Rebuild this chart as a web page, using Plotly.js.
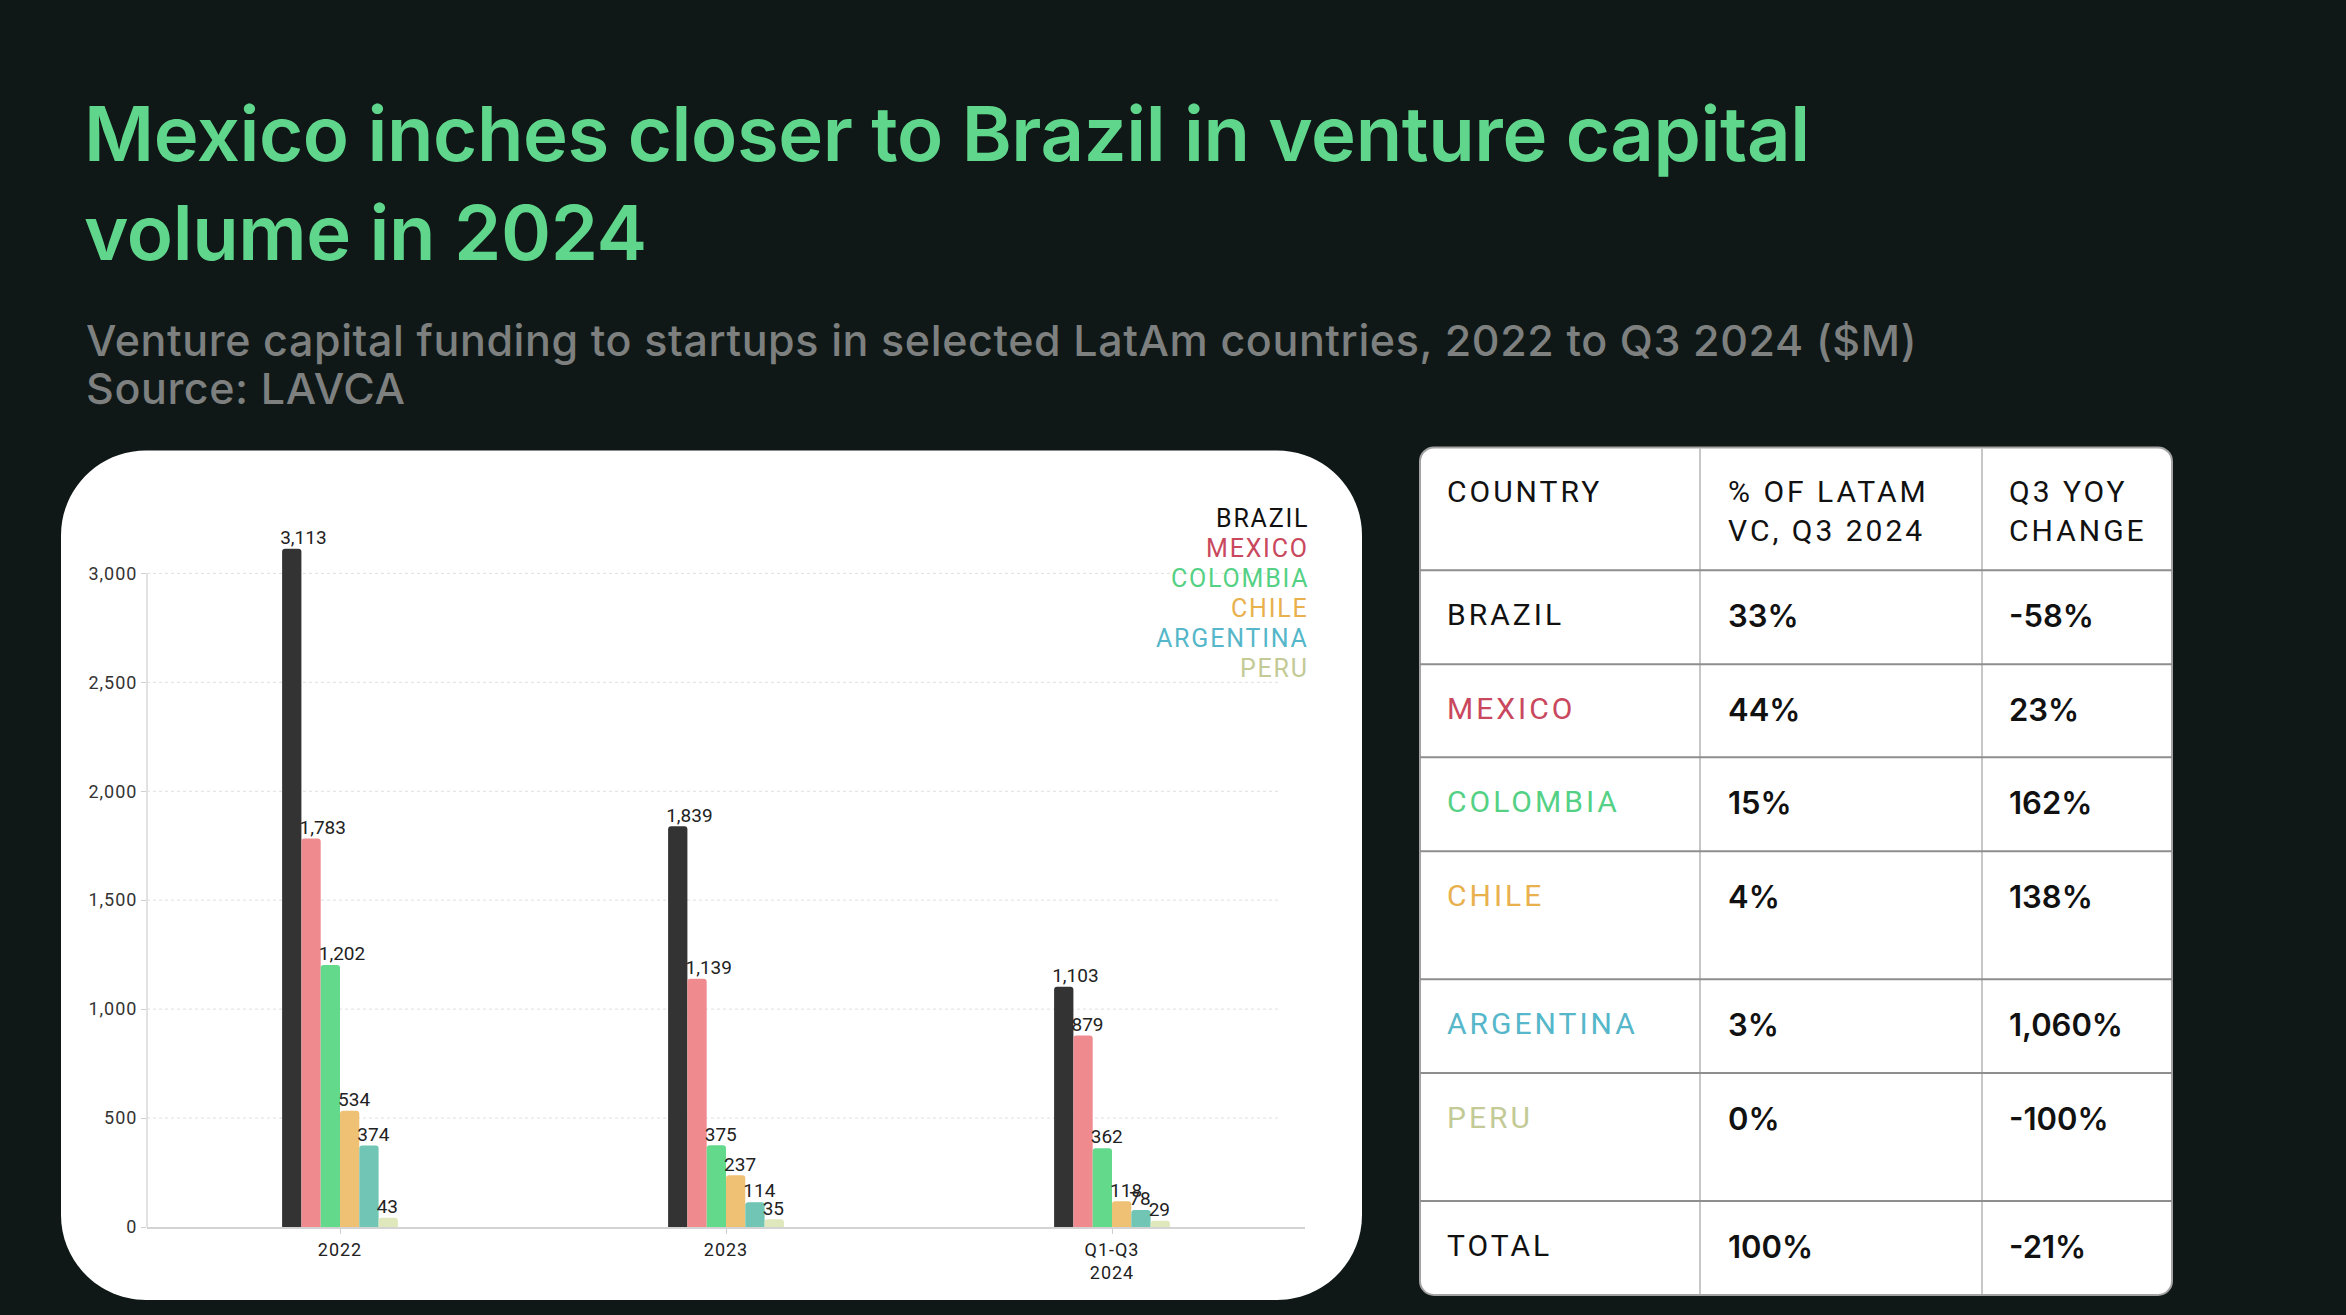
<!DOCTYPE html>
<html>
<head>
<meta charset="utf-8">
<script src="https://cdn.plot.ly/plotly-3.0.1.min.js"></script>
<style>
html,body{margin:0;padding:0;background:#0f1817;}
#chart{width:2346px;height:1315px;}
.xtick text, .ytick text{letter-spacing:1px;}
</style>
</head>
<body>
<div id="chart"></div>
<script>
// ---------- DATA ----------
const periods = ['2022', '2023', 'Q1-Q3<br>2024'];
const countries = ['BRAZIL', 'MEXICO', 'COLOMBIA', 'CHILE', 'ARGENTINA', 'PERU'];
const brazil = [3113, 1839, 1103];
const mexico = [1783, 1139, 879];
const colombia = [1202, 375, 362];
const chile = [534, 237, 118];
const argentina = [374, 114, 78];
const peru = [43, 35, 29];
const yTicks = [0, 500, 1000, 1500, 2000, 2500, 3000];

const tableHeader = ['COUNTRY', '% OF LATAM<br>VC, Q3 2024', 'Q3 YOY<br>CHANGE'];
const tableCountries = ['BRAZIL', 'MEXICO', 'COLOMBIA', 'CHILE', 'ARGENTINA', 'PERU', 'TOTAL'];
const tableShare = ['33%', '44%', '15%', '4%', '3%', '0%', '100%'];
const tableYoY = ['-58%', '23%', '162%', '138%', '1,060%', '-100%', '-21%'];

const titleLines = ['Mexico inches closer to Brazil in venture capital', 'volume in 2024'];
const subtitleLines = ['Venture capital funding to startups in selected LatAm countries, 2022 to Q3 2024 ($M)', 'Source: LAVCA'];

// ---------- STYLE / GEOMETRY ----------
const barColors = ['#333333', '#ef8b8f', '#63d98b', '#efc174', '#70c5b4', '#dfe8bc'];
const labelColors = ['#111111', '#c9485d', '#55d185', '#e9b14e', '#55b7c9', '#c3ca95'];
const series = [brazil, mexico, colombia, chile, argentina, peru];

const W = 2346, H = 1315;
const yTop = 3000, yMax = 3300;
const L = 147, R = 1305, B = 1227;
const pxPerUnit = 654 / yTop;
const T = B - yMax * pxPerUnit;
const px = x => (x - L) / (R - L);
const py = y => (B - y) / (B - T);
const GAP = 0.7;
const labelShift = 0.03; // category units, moves value labels left onto bar edge

function rr(x0, y0, x1, y1, r) {
  const k = 0.4477;
  const P = (x, y) => px(x) + ',' + py(y);
  return 'M' + P(x0 + r, y0) + ' L' + P(x1 - r, y0) +
    ' C' + P(x1 - r * k, y0) + ' ' + P(x1, y0 + r * k) + ' ' + P(x1, y0 + r) +
    ' L' + P(x1, y1 - r) +
    ' C' + P(x1, y1 - r * k) + ' ' + P(x1 - r * k, y1) + ' ' + P(x1 - r, y1) +
    ' L' + P(x0 + r, y1) +
    ' C' + P(x0 + r * k, y1) + ' ' + P(x0, y1 - r * k) + ' ' + P(x0, y1 - r) +
    ' L' + P(x0, y0 + r) +
    ' C' + P(x0, y0 + r * k) + ' ' + P(x0 + r * k, y0) + ' ' + P(x0 + r, y0) + ' Z';
}

const barTraces = series.map((vals, i) => ({
  type: 'bar',
  x: periods,
  y: vals,
  name: countries[i],
  marker: {color: barColors[i], cornerradius: 3, line: {width: 0}},
  hoverinfo: 'none',
  showlegend: false
}));

const labelTraces = series.map((vals, i) => ({
  type: 'scatter',
  mode: 'text',
  xaxis: 'x2',
  x: periods,
  y: vals,
  name: countries[i] + ' value',
  orientation: 'v',
  texttemplate: '%{y:,}',
  textposition: 'top right',
  textfont: {family: 'Roboto', size: 19, color: '#222222'},
  cliponaxis: false,
  hoverinfo: 'none',
  showlegend: false
}));

const shapes = [];
const annotations = [];

// white chart panel
shapes.push({type: 'path', xref: 'paper', yref: 'paper', path: rr(61, 450, 1362, 1300, 85),
  fillcolor: '#ffffff', line: {width: 0}, layer: 'below'});
// gridlines
yTicks.slice(1).forEach(v => shapes.push({type: 'line', xref: 'paper', yref: 'y',
  x0: 0, x1: px(1281), y0: v, y1: v, line: {color: '#dedede', width: 1, dash: 'dot'}, layer: 'below'}));
// y axis line
shapes.push({type: 'line', xref: 'paper', yref: 'y', x0: 0, x1: 0, y0: 0, y1: yTop,
  line: {color: '#d9d9d9', width: 1.5}, layer: 'below'});

// table frame
const tX0 = 1420, tX1 = 2172, tY0 = 447;
const rowH = [123, 94, 93, 94, 128, 94, 128, 94];
const rowTops = [];
let acc = tY0;
rowH.forEach(h => { rowTops.push(acc); acc += h; });
const tY1 = acc;
const colX = [1700, 1982];
const textX = [1445, 1726, 2007];

shapes.push({type: 'path', xref: 'paper', yref: 'paper', path: rr(tX0, tY0, tX1, tY1, 14),
  fillcolor: '#ffffff', line: {color: '#a3a3a3', width: 2}, layer: 'below'});
colX.forEach(cx => shapes.push({type: 'line', xref: 'paper', yref: 'paper',
  x0: px(cx), x1: px(cx), y0: py(tY0 + 1), y1: py(tY1 - 1), line: {color: '#b4b4b4', width: 1.5}}));
rowTops.slice(1).forEach(ry => shapes.push({type: 'line', xref: 'paper', yref: 'paper',
  x0: px(tX0), x1: px(tX1), y0: py(ry), y1: py(ry), line: {color: '#8e8e8e', width: 2}}));

function spaced(txt, sp) {
  return txt.split('<br>').map(s => '<span style="letter-spacing:' + sp + 'px">' + s + '</span>').join('<br>');
}

// subtitle
const subTops = [311, 360];
subtitleLines.forEach((s, i) => annotations.push({
  xref: 'paper', yref: 'paper', x: px(84), y: py(subTops[i]), xanchor: 'left', yanchor: 'top',
  text: spaced(s, 0.6), showarrow: false, align: 'left',
  font: {family: 'Inter', size: 43, weight: 500, color: '#7d807f'}
}));

// legend (text labels)
countries.forEach((c, i) => annotations.push({
  xref: 'paper', yref: 'paper', x: px(1311), y: py(502 + 30 * i), xanchor: 'right', yanchor: 'top',
  text: spaced(c, 1.8), showarrow: false, align: 'right',
  font: {family: 'Roboto', size: 25, color: labelColors[i]}
}));

// table header
tableHeader.forEach((h, j) => annotations.push({
  xref: 'paper', yref: 'paper', x: px(textX[j]), y: py(rowTops[0] + 25), xanchor: 'left', yanchor: 'top',
  text: spaced(h, 3), showarrow: false, align: 'left',
  font: {family: 'Roboto', size: 30, color: '#111111'}
}));
// table body
tableCountries.forEach((c, i) => {
  const top = rowTops[i + 1] + 25;
  annotations.push({xref: 'paper', yref: 'paper', x: px(textX[0]), y: py(top), xanchor: 'left', yanchor: 'top',
    text: spaced(c, 3), showarrow: false, align: 'left',
    font: {family: 'Roboto', size: 30, color: i < labelColors.length ? labelColors[i] : '#111111'}});
  annotations.push({xref: 'paper', yref: 'paper', x: px(textX[1]), y: py(top), xanchor: 'left', yanchor: 'top',
    text: tableShare[i], showarrow: false, align: 'left',
    font: {family: 'Inter', size: 31, weight: 600, color: '#111111'}});
  annotations.push({xref: 'paper', yref: 'paper', x: px(textX[2]), y: py(top), xanchor: 'left', yanchor: 'top',
    text: tableYoY[i], showarrow: false, align: 'left',
    font: {family: 'Inter', size: 31, weight: 600, color: '#111111'}});
});

const layout = {
  width: W, height: H,
  margin: {l: L, r: W - R, t: T, b: H - B, pad: 0},
  paper_bgcolor: '#0f1817',
  plot_bgcolor: 'rgba(0,0,0,0)',
  barmode: 'group', bargap: GAP, bargroupgap: 0,
  scattermode: 'group', scattergap: GAP,
  title: {
    text: titleLines.map(s => '<span style="letter-spacing:-0.4px">' + s + '</span>').join('<br>'),
    xref: 'container', yref: 'container', x: 84 / W, xanchor: 'left', y: 1 - 161 / H, yanchor: 'top',
    font: {family: 'Inter', size: 76, weight: 600, color: '#5fd68b'}
  },
  xaxis: {
    type: 'category', categoryarray: periods, range: [-0.5, 2.5],
    showline: true, linecolor: '#d3d3d3', linewidth: 2,
    ticks: 'outside', ticklen: 5, tickcolor: '#cfcfcf', tickwidth: 1,
    tickfont: {family: 'Roboto', size: 18, color: '#222222'},
    showgrid: false, zeroline: false, fixedrange: true
  },
  xaxis2: {
    type: 'category', categoryarray: periods, overlaying: 'x', anchor: 'y',
    range: [-0.5 + labelShift, 2.5 + labelShift], visible: false, fixedrange: true
  },
  yaxis: {
    range: [0, yMax], tickvals: yTicks, tickformat: ',',
    showline: false, showgrid: false,
    ticks: 'outside', ticklen: 5, tickcolor: '#d0d0d0',
    zeroline: false, fixedrange: true,
    tickfont: {family: 'Roboto', size: 18, color: '#333333'}
  },
  shapes: shapes,
  annotations: annotations,
  showlegend: false
};

Plotly.newPlot('chart', barTraces.concat(labelTraces), layout, {displayModeBar: false, staticPlot: true});
</script>
</body>
</html>
